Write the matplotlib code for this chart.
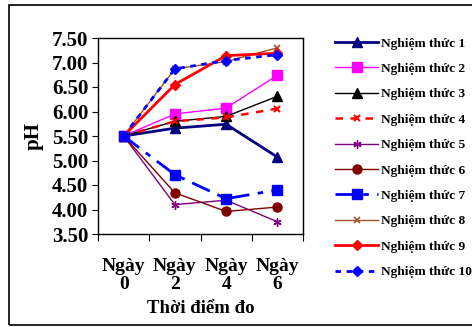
import matplotlib
matplotlib.use("Agg")
import matplotlib.pyplot as plt
from matplotlib.patches import Rectangle

categories = ["Ngày\n0", "Ngày\n2", "Ngày\n4", "Ngày\n6"]
names = ["Nghiệm thức %d" % i for i in range(1, 11)]
s1 = [5.50, 5.66, 5.74, 5.07]
s2 = [5.50, 5.95, 6.07, 6.74]
s3 = [5.50, 5.80, 5.90, 6.31]
s4 = [5.50, 5.80, 5.88, 6.06]
s5 = [5.50, 4.10, 4.19, 3.75]
s6 = [5.50, 4.34, 3.96, 4.05]
s7 = [5.50, 4.71, 4.22, 4.40]
s8 = [5.50, 6.87, 7.02, 7.30]
s9 = [5.50, 6.55, 7.14, 7.19]
s10 = [5.50, 6.87, 7.04, 7.16]
yticks = [3.50, 4.00, 4.50, 5.00, 5.50, 6.00, 6.50, 7.00, 7.50]

plt.rcParams['font.family'] = ['Liberation Serif', 'DejaVu Serif']
plt.rcParams['font.weight'] = 'bold'

fig = plt.figure(figsize=(4.72, 3.27), dpi=100)
W, H = 472, 327
ax = fig.add_axes([98 / W, 1 - 234 / H, 205 / W, 196 / H])

fig.patches.append(Rectangle((9 / W, 1 - 325 / H), 1.2, 320 / H, transform=fig.transFigure,
                             fill=False, edgecolor='black', linewidth=1.2, zorder=0))

x = [0.5, 1.5, 2.5, 3.5]
styles = [
    (s1, dict(color='#000080', lw=2.0, ls='-', marker='^', ms=6.5)),
    (s2, dict(color='#FF00FF', lw=1.0, ls='-', marker='s', ms=6.5)),
    (s3, dict(color='black', lw=1.0, ls='-', marker='^', ms=6.5)),
    (s4, dict(color='#FF0000', lw=1.8, ls=(0, (3, 3)), marker='x', ms=5, mew=1.5)),
    (s5, dict(color='#800080', lw=1.0, ls='-', marker=(6, 2, 0), ms=6, mew=1.0)),
    (s6, dict(color='#800000', lw=1.0, ls='-', marker='o', ms=6.5)),
    (s7, dict(color='#0000FF', lw=2.0, ls=(0, (7, 3, 2, 3)), marker='s', ms=6.5)),
    (s8, dict(color='#A0522D', lw=1.0, ls='-', marker='x', ms=5, mew=1.2)),
    (s9, dict(color='#FF0000', lw=2.0, ls='-', marker='D', ms=5.5)),
    (s10, dict(color='#0000FF', lw=2.0, ls=(0, (2, 2)), marker='D', ms=5.5)),
]
handles = []
for (vals, st), nm in zip(styles, names):
    h, = ax.plot(x, vals, label=nm, **st)
    handles.append(h)

ax.set_xlim(0, 4)
ax.set_ylim(3.5, 7.5)
ax.set_yticks(yticks)
ax.set_yticklabels(["%.2f" % v for v in yticks], fontsize=15, fontweight='bold')
ax.set_xticks([0, 1, 2, 3, 4])
ax.set_xticklabels([])
ax.set_xticks(x, minor=True)
ax.set_xticklabels(categories, minor=True, fontsize=14, fontweight='bold', linespacing=1.1)
ax.tick_params(axis='x', which='minor', length=0, pad=17)
ax.tick_params(axis='x', which='major', length=5, direction='out')
ax.tick_params(axis='y', length=4, direction='out', pad=3)
for sp in ax.spines.values():
    sp.set_linewidth(1.0)
ax.set_ylabel("pH", fontsize=15, fontweight='bold', labelpad=6)
ax.set_xlabel("Thời điểm đo", fontsize=13.5, fontweight='bold', labelpad=5)

leg = fig.legend(handles=handles, loc='upper left', bbox_to_anchor=(330 / W, 1 - 32 / H),
                 frameon=False, prop={'size': 9.6, 'weight': 'bold'},
                 handlelength=3.2, handletextpad=0.2, labelspacing=0.98, borderaxespad=0)

fig.savefig("out.png", dpi=100)
